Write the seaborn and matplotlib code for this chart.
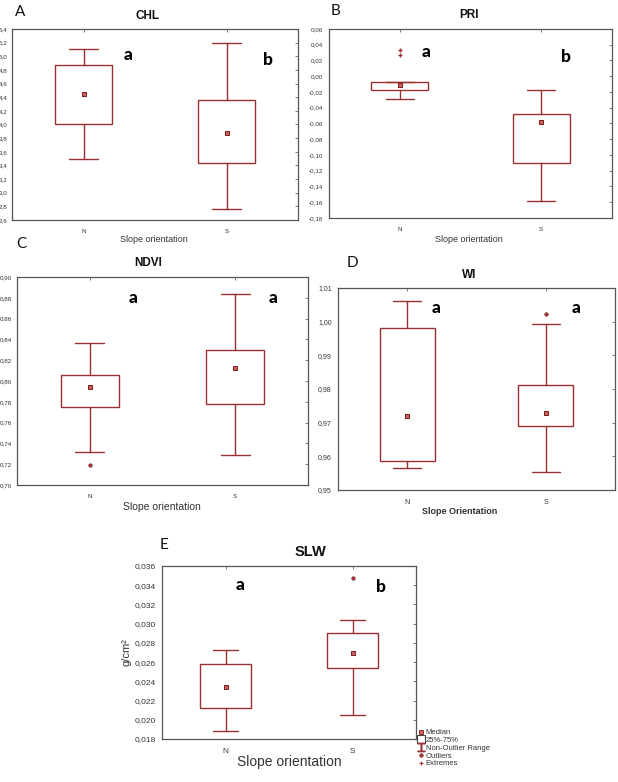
import numpy as np
import pandas as pd
import matplotlib
matplotlib.use("Agg")
import matplotlib.pyplot as plt
from matplotlib.ticker import FuncFormatter, MultipleLocator
from matplotlib.lines import Line2D
import seaborn as sns

# ---------------- data ----------------
categories = ["N", "S"]

chl_whislo = [3.49, 2.76]
chl_q1 = [4.01, 3.43]
chl_med = [4.44, 3.88]
chl_q3 = [4.87, 4.36]
chl_whishi = [5.10, 5.19]

pri_whislo = [-0.0294, -0.1585]
pri_q1 = [-0.0176, -0.1104]
pri_med = [-0.0117, -0.0585]
pri_q3 = [-0.0079, -0.0475]
pri_whishi = [-0.0079, -0.0176]
pri_extremes_N = [0.0339, 0.0267]

ndvi_whislo = [0.7313, 0.7291]
ndvi_q1 = [0.7754, 0.7783]
ndvi_med = [0.7946, 0.8125]
ndvi_q3 = [0.8060, 0.8297]
ndvi_whishi = [0.8364, 0.8837]
ndvi_outliers_N = [0.7195]

wi_whislo = [0.9565, 0.9552]
wi_q1 = [0.9586, 0.9689]
wi_med = [0.9721, 0.9730]
wi_q3 = [0.9982, 0.9812]
wi_whishi = [1.0062, 0.9993]
wi_outliers_S = [1.0024]

slw_whislo = [0.01883, 0.02049]
slw_q1 = [0.02125, 0.02541]
slw_med = [0.02343, 0.02697]
slw_q3 = [0.02579, 0.02901]
slw_whishi = [0.02721, 0.03043]
slw_outliers_S = [0.03475]

# ---------------- style ----------------
sns.set_style("white")
plt.rcParams["font.family"] = ["Liberation Sans", "DejaVu Sans"]

RED = "#9a3030"
MEDFACE = "#b83a3a"
SPINE = "#555555"

W, H = 618, 782
fig = plt.figure(figsize=(W / 100, H / 100), dpi=100)


def px_axes(x0, y0, x1, y1):
    return fig.add_axes([x0 / W, 1 - y1 / H, (x1 - x0) / W, (y1 - y0) / H])


def ftext(x, y, s, **kw):
    fig.text(x / W, 1 - y / H, s, ha=kw.pop("ha", "center"), va=kw.pop("va", "center"), **kw)


def comma_fmt(decimals):
    return FuncFormatter(lambda v, p: f"{v:.{decimals}f}".replace(".", ","))


def panel(ax, whislo, q1, med, q3, whishi, ylim, step, decimals, tick_fs,
          outliers=None, extremes=None, ypad=2):
    stats = []
    for i, c in enumerate(categories):
        stats.append(dict(label=c, whislo=whislo[i], q1=q1[i], med=med[i],
                          q3=q3[i], whishi=whishi[i], fliers=[]))
    ax.bxp(stats, positions=[0, 1], widths=0.4, capwidths=0.2, showfliers=False,
           patch_artist=True,
           boxprops=dict(facecolor="white", edgecolor=RED, linewidth=1.0),
           whiskerprops=dict(color=RED, linewidth=1.0),
           capprops=dict(color=RED, linewidth=1.0),
           medianprops=dict(linewidth=0))
    dfm = pd.DataFrame({"pos": [0, 1], "val": med})
    sns.scatterplot(data=dfm, x="pos", y="val", marker="s", s=8, color="#d06060",
                    edgecolor="#7a1e1e", linewidth=0.7, ax=ax, zorder=5)
    if outliers:
        pos, vals = outliers
        dfo = pd.DataFrame({"pos": [pos] * len(vals), "val": vals})
        sns.scatterplot(data=dfo, x="pos", y="val", marker="o", s=6, color=MEDFACE,
                        edgecolor="#6e1a1a", linewidth=0.5, ax=ax, zorder=5)
    if extremes:
        pos, vals = extremes
        dfe = pd.DataFrame({"pos": [pos] * len(vals), "val": vals})
        sns.scatterplot(data=dfe, x="pos", y="val", marker="+", s=10, color=RED,
                        linewidth=1.0, ax=ax, zorder=5)
    ax.set_xlim(-0.5, 1.5)
    ax.set_ylim(*ylim)
    ax.yaxis.set_major_locator(MultipleLocator(step))
    ax.yaxis.set_major_formatter(comma_fmt(decimals))
    ax.set_xticks([0, 1])
    ax.set_xticklabels(categories)
    ax.set_xlabel("")
    ax.set_ylabel("")
    ax.tick_params(direction="out", length=2.5, width=0.6, labelsize=tick_fs,
                   colors="#333333", pad=ypad)
    ax.tick_params(axis="x", pad=4)
    for s in ax.spines.values():
        s.set_color(SPINE)
        s.set_linewidth(0.9)
        s.set_visible(True)
    sy = ax.secondary_yaxis("right")
    sy.yaxis.set_major_locator(MultipleLocator(step))
    sy.tick_params(direction="in", length=2.5, width=0.6, labelright=False, colors="#666666")
    sx = ax.secondary_xaxis("top")
    sx.set_xticks([0, 1])
    sx.tick_params(direction="in", length=2.5, width=0.6, labeltop=False, colors="#666666")
    for sp in list(sy.spines.values()) + list(sx.spines.values()):
        sp.set_visible(False)


# A - CHL
axA = px_axes(12, 29, 298, 220)
panel(axA, chl_whislo, chl_q1, chl_med, chl_q3, chl_whishi, (2.6, 5.4), 0.2, 1, 4.5, ypad=1)
# B - PRI
axB = px_axes(329, 29, 612, 218)
panel(axB, pri_whislo, pri_q1, pri_med, pri_q3, pri_whishi, (-0.18, 0.06), 0.02, 2, 4.5,
      extremes=(0, pri_extremes_N))
# C - NDVI
axC = px_axes(17, 277, 308, 485)
panel(axC, ndvi_whislo, ndvi_q1, ndvi_med, ndvi_q3, ndvi_whishi, (0.70, 0.90), 0.02, 2, 4.5,
      outliers=(0, ndvi_outliers_N), ypad=1)
# D - WI
axD = px_axes(338, 288, 615, 490)
panel(axD, wi_whislo, wi_q1, wi_med, wi_q3, wi_whishi, (0.95, 1.01), 0.01, 2, 5,
      outliers=(1, wi_outliers_S))
# E - SLW
axE = px_axes(162, 566, 416, 739)
panel(axE, slw_whislo, slw_q1, slw_med, slw_q3, slw_whishi, (0.018, 0.036), 0.002, 3, 6,
      outliers=(1, slw_outliers_S))

# ---------------- texts ----------------
LET = dict(fontsize=11, color="#111111", family=["Lato", "DejaVu Sans"])
SIG = dict(fontsize=12.5, fontweight="black", color="#000000",
           family=["Lato", "DejaVu Sans"])
TIT = dict(fontsize=8.5, fontweight="bold", color="#111111")

ftext(20, 12, "A", **LET)
ftext(148, 16, "CHL", **TIT)
ftext(128, 55, "a", **SIG)
ftext(268, 60, "b", **SIG)
ftext(154, 240, "Slope orientation", fontsize=6.5, color="#333333")

ftext(336, 11, "B", **LET)
ftext(469, 15, "PRI", **TIT)
ftext(426, 52, "a", **SIG)
ftext(566, 57, "b", **SIG)
ftext(469, 239, "Slope orientation", fontsize=6.5, color="#333333")

ftext(21, 244, "C", **LET)
ftext(148, 263, "NDVI", **TIT)
ftext(133, 298, "a", **SIG)
ftext(273, 298, "a", **SIG)
ftext(162, 507, "Slope orientation", fontsize=7.5, color="#333333")

ftext(352, 263, "D", **LET)
ftext(469, 275, "WI", **TIT)
ftext(436, 308, "a", **SIG)
ftext(576, 308, "a", **SIG)
ftext(460, 512, "Slope Orientation", fontsize=6.5, fontweight="bold", color="#333333")

ftext(164, 545, "E", **LET)
ftext(310, 552, "SLW", fontsize=10.5, fontweight="bold", color="#111111")
ftext(240, 585, "a", **SIG)
ftext(381, 587, "b", **SIG)
ftext(289, 762, "Slope orientation", fontsize=10, color="#333333")
ftext(127, 652, "g/cm²", fontsize=8, rotation=90, color="#333333")

# ---------------- legend ----------------
handles = [
    Line2D([], [], linestyle="none", marker="s", markersize=3, markerfacecolor="#d06060",
           markeredgecolor="#7a1e1e", markeredgewidth=0.6),
    Line2D([], [], linestyle="none", marker="s", markersize=6, markerfacecolor="white",
           markeredgecolor="#444444", markeredgewidth=0.8),
    Line2D([], [], linestyle="none", marker="$\u2336$", markersize=6, color=RED),
    Line2D([], [], linestyle="none", marker="o", markersize=2.5, markerfacecolor=MEDFACE,
           markeredgecolor="#6e1a1a", markeredgewidth=0.5),
    Line2D([], [], linestyle="none", marker="+", markersize=3.5, color=RED,
           markeredgewidth=0.8),
]
labels = ["Median", "25%-75%", "Non-Outlier Range", "Outliers", "Extremes"]
fig.legend(handles, labels, loc="upper left", bbox_to_anchor=(419 / W, 1 - 729 / H),
           frameon=False, fontsize=5.5, handlelength=0.6, handletextpad=0.3,
           labelspacing=0.05, borderpad=0, borderaxespad=0, labelcolor="#333333")

fig.savefig("out.png", dpi=100)
